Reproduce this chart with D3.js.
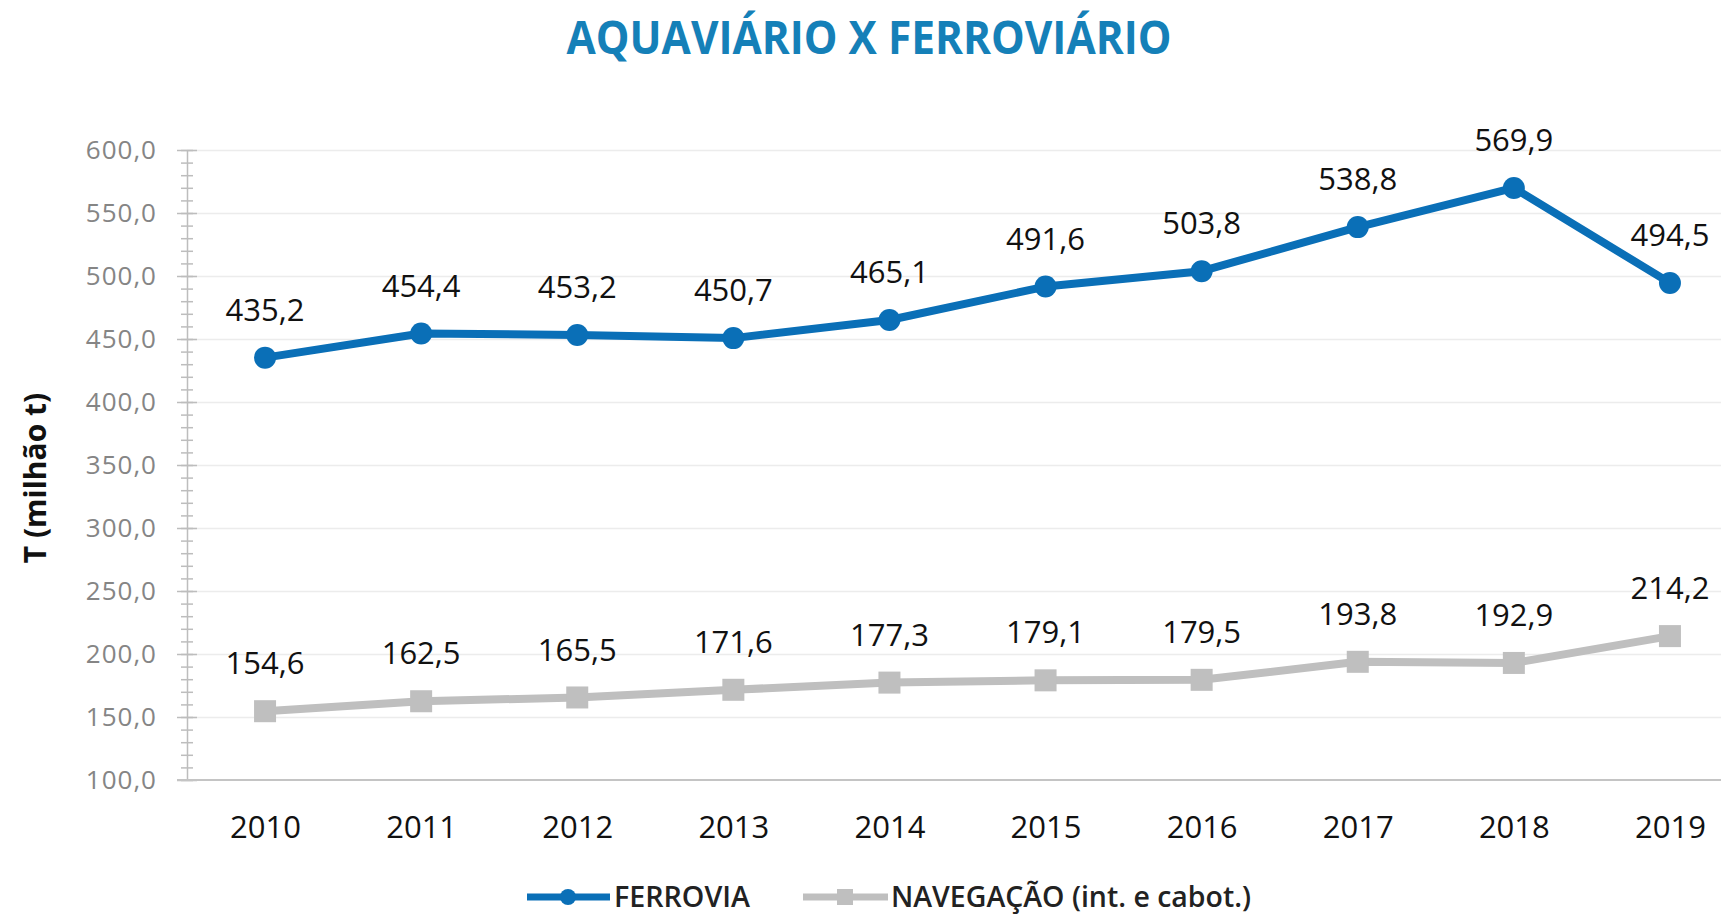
<!DOCTYPE html>
<html lang="pt">
<head>
  <meta charset="UTF-8">
  <title>Aquaviário x Ferroviário</title>
  <style>
    *{ margin:0; padding:0; }
    body{ background:#fff; }
    text{ font-family:"Open Sans", sans-serif; }
  </style>
  <script src="https://cdn.jsdelivr.net/npm/d3@7"></script>
</head>
<body>
  <svg id="mainsvg"></svg>
  <script>
    // dados
    const years = ['2010','2011','2012','2013','2014','2015','2016','2017','2018','2019']
    const ferrovia = [435.2, 454.4, 453.2, 450.7, 465.1, 491.6, 503.8, 538.8, 569.9, 494.5]
    const navegacao = [154.6, 162.5, 165.5, 171.6, 177.3, 179.1, 179.5, 193.8, 192.9, 214.2]
    const yTicks = [100, 150, 200, 250, 300, 350, 400, 450, 500, 550, 600]
    const seriesNames = ['FERROVIA', 'NAVEGAÇÃO (int. e cabot.)']

    const width = 1721, height = 914
    const blue = '#0a6fb7', grey = '#bfbfbf'
    const svg = d3.select('#mainsvg').attr('width', width).attr('height', height)

    const axisX = 187, plotTop = 150, plotBottom = 780
    const step = 156.1

    const pt = d3.formatLocale({decimal: ',', thousands: '.', grouping: [3], currency: ['R$', '']})
    const fmt = pt.format('.1f')

    const x = d3.scalePoint().domain(years).range([axisX, axisX + step * years.length]).padding(0.5)
    const y = d3.scaleLinear().domain([100, 600]).range([plotBottom, plotTop])

    // titulo
    svg.append('text')
      .attr('x', 869).attr('y', 54)
      .attr('text-anchor', 'middle')
      .attr('font-size', 46).attr('font-weight', 700)
      .attr('fill', '#1580b8')
      .attr('textLength', 605).attr('lengthAdjust', 'spacingAndGlyphs')
      .text('AQUAVIÁRIO X FERROVIÁRIO')

    // grade
    svg.append('g')
      .attr('transform', `translate(${axisX},0)`)
      .call(d3.axisLeft(y).tickValues(yTicks.slice(1)).tickSize(-(width - axisX)).tickFormat(''))
      .call(g => g.select('.domain').remove())
      .call(g => g.selectAll('line').attr('stroke', '#ececec').attr('stroke-width', 1.5))

    // ticks menores (a cada 10)
    const minor = d3.range(100, 601, 10)
    svg.append('g')
      .attr('transform', `translate(${axisX},0)`)
      .call(d3.axisLeft(y).tickValues(minor).tickSize(0).tickFormat(''))
      .call(g => g.select('.domain').attr('stroke', '#bdbdbd').attr('stroke-width', 1.5))
      .call(g => g.selectAll('line').attr('x1', -6).attr('x2', 6).attr('stroke', '#bdbdbd').attr('stroke-width', 1.5))

    // eixo y principal
    svg.append('g')
      .attr('transform', `translate(${axisX},0)`)
      .call(d3.axisLeft(y).tickValues(yTicks).tickSize(0).tickPadding(30).tickFormat(fmt))
      .call(g => g.select('.domain').remove())
      .call(g => g.selectAll('line').attr('x1', -10).attr('x2', 10).attr('stroke', '#bdbdbd').attr('stroke-width', 1.5))
      .call(g => g.selectAll('text')
        .attr('font-family', '"Open Sans", sans-serif')
        .attr('font-size', 26).attr('fill', '#858585')
        .attr('letter-spacing', 1))

    // eixo x
    svg.append('line')
      .attr('x1', axisX - 10).attr('x2', width)
      .attr('y1', plotBottom).attr('y2', plotBottom)
      .attr('stroke', '#c4c4c4').attr('stroke-width', 2)

    svg.append('g')
      .attr('transform', `translate(0,${plotBottom})`)
      .call(d3.axisBottom(x).tickSize(0).tickPadding(36))
      .call(g => g.select('.domain').remove())
      .call(g => g.selectAll('text')
        .attr('font-family', '"Open Sans", sans-serif')
        .attr('font-size', 31).attr('font-weight', 500).attr('fill', '#111'))

    // titulo do eixo y
    svg.append('text')
      .attr('transform', 'translate(46,478) rotate(-90)')
      .attr('text-anchor', 'middle')
      .attr('font-size', 30).attr('font-weight', 700).attr('fill', '#111')
      .text('T (milhão t)')

    const line = d3.line().x((d, i) => x(years[i])).y(d => y(d))

    // navegação
    const gN = svg.append('g')
    gN.append('path').datum(navegacao)
      .attr('fill', 'none').attr('stroke', grey).attr('stroke-width', 8)
      .attr('stroke-linejoin', 'round').attr('d', line)
    gN.selectAll('rect').data(navegacao).join('rect')
      .attr('x', (d, i) => x(years[i]) - 11).attr('y', d => y(d) - 11)
      .attr('width', 22).attr('height', 22).attr('fill', grey)

    // ferrovia
    const gF = svg.append('g')
    gF.append('path').datum(ferrovia)
      .attr('fill', 'none').attr('stroke', blue).attr('stroke-width', 8)
      .attr('stroke-linejoin', 'round').attr('d', line)
    gF.selectAll('circle').data(ferrovia).join('circle')
      .attr('cx', (d, i) => x(years[i])).attr('cy', d => y(d))
      .attr('r', 11).attr('fill', blue)

    // rótulos
    function drawLabels(values) {
      svg.append('g').selectAll('text').data(values).join('text')
        .attr('x', (d, i) => x(years[i]))
        .attr('y', d => y(d) - 48)
        .attr('dy', '0.36em')
        .attr('text-anchor', 'middle')
        .attr('font-size', 31).attr('fill', '#111')
        .text(d => fmt(d))
    }
    drawLabels(ferrovia)
    drawLabels(navegacao)

    // legenda
    const legY = 897
    const leg = svg.append('g')
    leg.append('line').attr('x1', 527).attr('x2', 610).attr('y1', legY).attr('y2', legY)
      .attr('stroke', blue).attr('stroke-width', 7)
    leg.append('circle').attr('cx', 568).attr('cy', legY).attr('r', 8).attr('fill', blue)
    leg.append('text').attr('x', 614).attr('y', legY).attr('dy', '0.36em')
      .attr('font-size', 29).attr('font-weight', 600).attr('fill', '#222')
      .attr('textLength', 136).attr('lengthAdjust', 'spacingAndGlyphs')
      .text(seriesNames[0])
    leg.append('line').attr('x1', 803).attr('x2', 888).attr('y1', legY).attr('y2', legY)
      .attr('stroke', grey).attr('stroke-width', 7)
    leg.append('rect').attr('x', 837).attr('y', legY - 8).attr('width', 16).attr('height', 16).attr('fill', grey)
    leg.append('text').attr('x', 891).attr('y', legY).attr('dy', '0.36em')
      .attr('font-size', 29).attr('font-weight', 600).attr('fill', '#222')
      .attr('textLength', 360).attr('lengthAdjust', 'spacingAndGlyphs')
      .text(seriesNames[1])
  </script>
</body>
</html>
